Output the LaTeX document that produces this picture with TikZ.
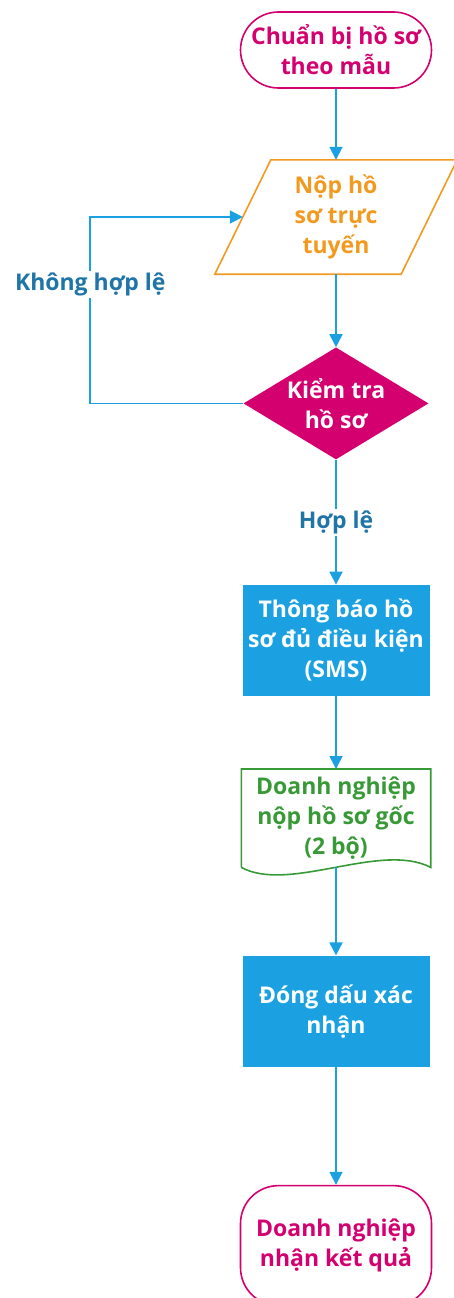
\documentclass[tikz,border=0pt]{standalone}
\usepackage{fontspec}
\setmainfont{Open Sans}
\usetikzlibrary{positioning,shapes.geometric,arrows.meta}
\definecolor{pinkc}{HTML}{D4006F}
\definecolor{orangec}{HTML}{F29A1F}
\definecolor{cyanc}{HTML}{1BA1E2}
\definecolor{greenc}{HTML}{379A37}
\definecolor{labelc}{HTML}{1F75A8}
\tikzset{
  base/.style={align=center,font=\fontsize{23}{30}\selectfont\bfseries,inner sep=0pt},
  terminal/.style={base,draw=pinkc,line width=1.6pt,rounded corners=38pt,text=pinkc,
    minimum width=191pt,minimum height=76pt},
  inputbox/.style={base,text=orangec,minimum width=186pt,minimum height=114pt},
  decision/.style={base,diamond,fill=pinkc,text=white,aspect=1.65,
    minimum width=185pt,minimum height=112pt},
  process/.style={base,fill=cyanc,text=white,minimum width=187pt,minimum height=111pt},
  docbox/.style={base,text=greenc,minimum width=189pt,minimum height=98pt},
  flow/.style={draw=cyanc,line width=1.8pt,->},
  cond/.style={fill=white,text=labelc,font=\fontsize{23}{30}\selectfont\bfseries,inner sep=2pt}
}
\begin{document}
\begin{tikzpicture}[x=1pt,y=1pt,>={Triangle[length=13pt,width=13pt]}]
  \useasboundingbox (0,0) rectangle (454,-1298);
  \node[terminal] (start) at (336,-50) {Chuẩn bị hồ sơ\\theo mẫu};
  \node[inputbox,below=71pt of start] (input) {Nộp hồ\\sơ trực\\tuyến};
  \node[decision,below=73pt of input] (check) {Kiểm tra\\hồ sơ};
  \node[process,below=125pt of check] (notify) {Thông báo hồ\\sơ đủ điều kiện\\(SMS)};
  \node[docbox,below=73pt of notify] (paper) {Doanh nghiệp\\nộp hồ sơ gốc\\(2 bộ)};
  \node[process,below=88pt of paper] (stamp) {Đóng dấu xác\\nhận};
  \node[terminal,minimum height=120pt,below=118pt of stamp] (result) {Doanh nghiệp\\nhận kết quả};

  % slanted outline of the input box
  \draw[orangec,line width=1.6pt] ([xshift=28pt]input.north west) -- ([xshift=28pt]input.north east)
    -- ([xshift=-28pt]input.south east) -- ([xshift=-28pt]input.south west) -- cycle;
  % document outline with wavy bottom
  \draw[greenc,line width=1.6pt] (paper.south west) -- (paper.north west) -- (paper.north east)
    -- (paper.south east) .. controls ([xshift=-50pt,yshift=26pt]paper.south east)
    and ([xshift=48pt,yshift=-26pt]paper.south west) .. (paper.south west);

  \coordinate[left=153pt of check.west] (loopc);

  \draw[flow] (start) -- (input);
  \draw[flow] (input) -- (check);
  \draw[flow] (check) -- node[cond]{Hợp lệ} (notify);
  \draw[flow] (check.west) -- (loopc) |- node[cond,pos=0.32]{Không hợp lệ} (input.west);
  \draw[flow] (notify) -- (paper);
  \draw[flow] (paper) -- (stamp);
  \draw[flow] (stamp) -- (result);
\end{tikzpicture}
\end{document}
